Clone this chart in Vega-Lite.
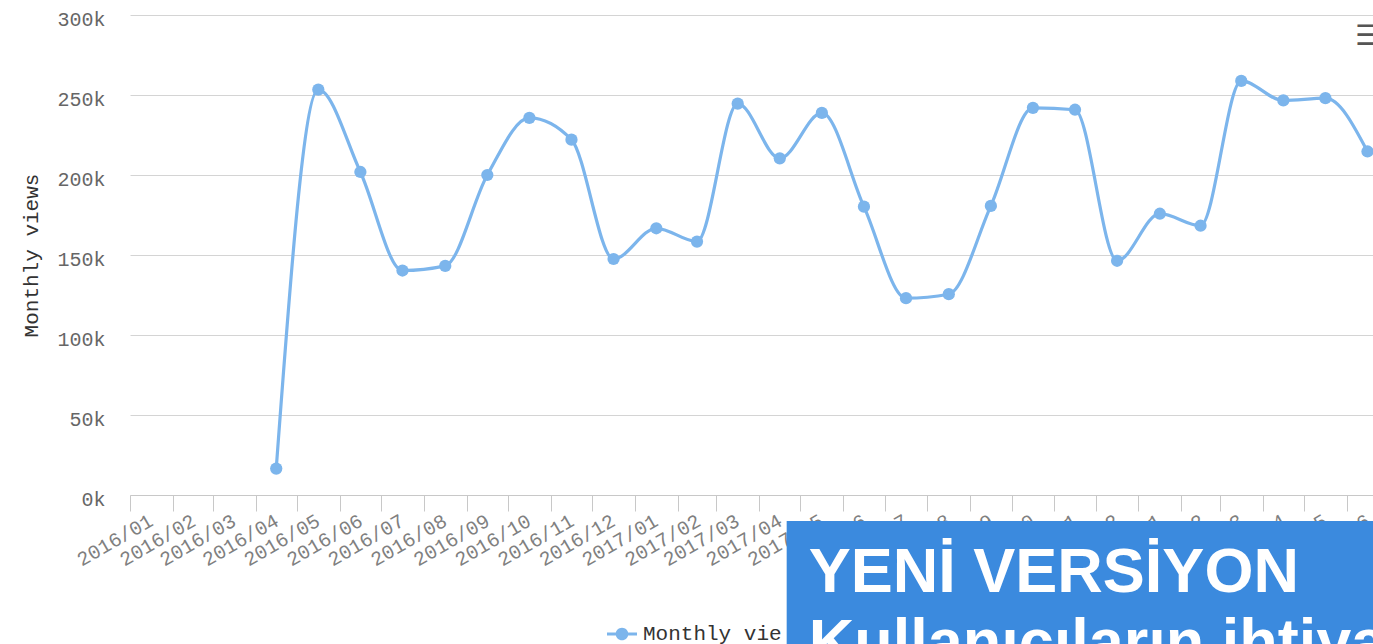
{
  "$schema": "https://vega.github.io/schema/vega-lite/v6.json",
  "width": 1243,
  "height": 480,
  "autosize": {"type": "none"},
  "padding": {"left": 130, "top": 15, "right": 0, "bottom": 149},
  "background": "white",
  "config": {"view": {"stroke": null}, "font": "Liberation Mono"},
  "datasets": {
    "monthly": [
      {"month": "2016-04", "views": 16500},
      {"month": "2016-05", "views": 253400},
      {"month": "2016-06", "views": 201900},
      {"month": "2016-07", "views": 140300},
      {"month": "2016-08", "views": 143200},
      {"month": "2016-09", "views": 200000},
      {"month": "2016-10", "views": 235700},
      {"month": "2016-11", "views": 222100},
      {"month": "2016-12", "views": 147500},
      {"month": "2017-01", "views": 166700},
      {"month": "2017-02", "views": 158400},
      {"month": "2017-03", "views": 244600},
      {"month": "2017-04", "views": 210400},
      {"month": "2017-05", "views": 238800},
      {"month": "2017-06", "views": 180200},
      {"month": "2017-07", "views": 123000},
      {"month": "2017-08", "views": 125500},
      {"month": "2017-09", "views": 180700},
      {"month": "2017-10", "views": 242000},
      {"month": "2017-11", "views": 240800},
      {"month": "2017-12", "views": 146400},
      {"month": "2018-01", "views": 175800},
      {"month": "2018-02", "views": 168300},
      {"month": "2018-03", "views": 258800},
      {"month": "2018-04", "views": 246600},
      {"month": "2018-05", "views": 248000},
      {"month": "2018-06", "views": 214700}
    ],
    "single": [{"note": "annotation"}]
  },
  "layer": [
    {
      "data": {"name": "monthly"},
      "mark": {"type": "line", "interpolate": "monotone", "strokeWidth": 3.2, "color": "#7cb5ec"},
      "encoding": {
        "x": {
          "field": "month",
          "timeUnit": "utcyearmonth",
          "type": "temporal",
          "bandPosition": 0.5,
          "scale": {
            "type": "utc",
            "nice": false,
            "domain": [
              {"year": 2016, "month": 1, "date": 1, "utc": true},
              {"year": 2018, "month": 6, "date": 20, "utc": true}
            ]
          },
          "axis": {
            "title": null,
            "format": "%Y/%m",
            "tickCount": {"interval": "month", "step": 1},
            "labelAngle": -30,
            "labelAlign": "right",
            "labelBaseline": "middle",
            "labelOffset": 21,
            "labelPadding": 8,
            "labelFlush": false,
            "labelOverlap": false,
            "labelBound": false,
            "labelFont": "Liberation Mono",
            "labelFontSize": 20,
            "labelColor": "#808080",
            "tickSize": 16,
            "tickColor": "#c8c8c8",
            "domainColor": "#c8c8c8",
            "grid": false,
            "zindex": 0
          }
        },
        "y": {
          "field": "views",
          "type": "quantitative",
          "scale": {"domain": [0, 300000], "nice": false},
          "axis": {
            "title": "Monthly views",
            "values": [0, 50000, 100000, 150000, 200000, 250000, 300000],
            "labelExpr": "datum.value / 1000 + 'k'",
            "grid": true,
            "gridColor": "#d4d4d4",
            "domain": false,
            "ticks": false,
            "labelPadding": 25,
            "labelFont": "Liberation Mono",
            "labelFontSize": 20,
            "labelColor": "#666666",
            "labelBaseline": "middle",
            "labelOffset": 4,
            "titleFont": "Liberation Mono",
            "titleFontSize": 21,
            "titleColor": "#333333",
            "titleFontWeight": "normal",
            "titlePadding": 15,
            "zindex": 0
          }
        }
      }
    },
    {
      "data": {"name": "monthly"},
      "mark": {"type": "point", "filled": true, "shape": "circle", "size": 150, "opacity": 1},
      "encoding": {
        "x": {"field": "month", "timeUnit": "utcyearmonth", "type": "temporal", "bandPosition": 0.5},
        "y": {"field": "views", "type": "quantitative"},
        "color": {
          "datum": "Monthly views",
          "scale": {"range": ["#7cb5ec"]},
          "legend": {
            "orient": "none",
            "legendX": 477,
            "legendY": 604,
            "direction": "horizontal",
            "title": null,
            "labelFont": "Liberation Mono",
            "labelFontSize": 21,
            "labelColor": "#333333",
            "labelOffset": 6,
            "labelLimit": 146,
            "symbolType": "M -1 -0.1 L 1 -0.1 L 1 0.1 L -1 0.1 Z M 0.42 0 A 0.42 0.42 0 1 1 -0.42 0 A 0.42 0.42 0 1 1 0.42 0 Z",
            "symbolSize": 900,
            "symbolStrokeWidth": 0,
            "symbolOpacity": 1,
            "symbolFillColor": "#7cb5ec",
            "encode": {"labels": {"update": {"ellipsis": {"value": "\u200b"}}}}
          }
        }
      }
    },
    {
      "data": {"name": "single"},
      "mark": {"type": "rect", "color": "#3b8ade", "opacity": 1},
      "encoding": {
        "x": {"datum": {"year": 2017, "month": 4, "date": 21, "utc": true}, "type": "temporal"},
        "x2": {"datum": {"year": 2018, "month": 9, "date": 1, "utc": true}},
        "y": {"datum": -16250, "type": "quantitative"},
        "y2": {"datum": -120000}
      }
    },
    {
      "data": {"name": "single"},
      "mark": {
        "type": "text",
        "text": ["YENİ VERSİYON", "Kullanıcıların ihtiyaçlarına"],
        "font": "Liberation Sans",
        "fontWeight": "bold",
        "fontSize": 63,
        "color": "white",
        "align": "left",
        "baseline": "alphabetic",
        "lineHeight": 71
      },
      "encoding": {
        "x": {"datum": {"year": 2017, "month": 5, "date": 7, "utc": true}, "type": "temporal"},
        "y": {"datum": -60625, "type": "quantitative"}
      }
    },
    {
      "data": {"name": "single"},
      "mark": {
        "type": "text",
        "text": "☰",
        "font": "DejaVu Sans",
        "fontWeight": "bold",
        "fontSize": 28,
        "color": "#555555",
        "align": "left",
        "baseline": "middle"
      },
      "encoding": {
        "x": {"datum": {"year": 2018, "month": 6, "date": 7, "utc": true}, "type": "temporal"},
        "y": {"datum": 286250, "type": "quantitative"}
      }
    }
  ]
}
